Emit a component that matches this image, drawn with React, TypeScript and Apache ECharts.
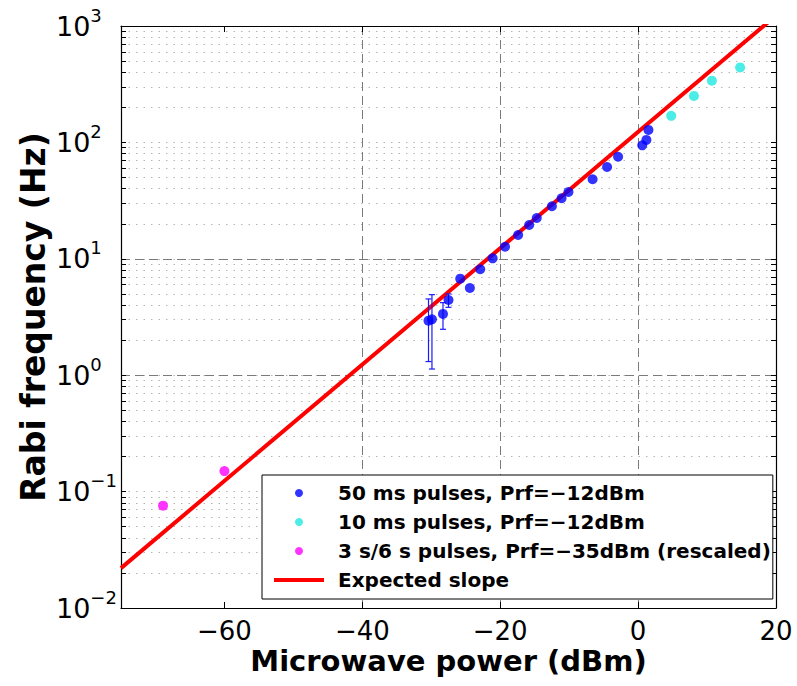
import React, { useEffect, useRef } from "react";
import * as echarts from "echarts";

// ---- data ----
const blueX = [-30.4, -29.9, -28.3, -27.5, -25.8, -24.4, -22.9, -21.1, -19.3, -17.4, -15.8, -14.7, -12.5, -11.1, -10.1, -6.6, -4.5, -2.9, 0.6, 1.2, 1.5];
const blueY = [2.94, 3.02, 3.36, 4.43, 6.75, 5.61, 8.13, 10.1, 12.7, 16.0, 19.5, 22.4, 28.3, 33.1, 37.5, 48.2, 61.5, 75.3, 94.4, 105, 128];
const errX = [-30.4, -29.9, -28.3, -27.5];
const errLow = [1.31, 1.13, 2.48, 3.83];
const errHigh = [4.52, 4.92, 4.2, 4.99];
const cyanX = [4.8, 8.1, 10.7, 14.8];
const cyanY = [169, 251, 339, 441];
const magX = [-68.9, -60.0];
const magY = [0.0757, 0.15];
const slopeX = [-75, 20];
const slopeY = [0.022, 1230];

const xTicks = [-60, -40, -20, 0, 20];
const decades = [0.01, 0.1, 1, 10, 100, 1000];
const innerDecades = [0.1, 1, 10, 100];
const minorMult = [1, 2, 3, 4, 5, 6, 7, 8, 9];

const names = [
  "50 ms pulses, Prf=\u221212dBm",
  "10 ms pulses, Prf=\u221212dBm",
  "3 s/6 s pulses, Prf=\u221235dBm (rescaled)",
  "Expected slope",
];

const FONT = "DejaVu Sans";

export default function App() {
  const ref = useRef<HTMLDivElement>(null);
  useEffect(() => {
    if (!ref.current) return;
    const chart = echarts.init(ref.current, undefined, { renderer: "svg" });
    const yTickVals: number[] = [];
    decades.slice(0, 5).forEach((d) => minorMult.forEach((m) => yTickVals.push(+(m * d).toPrecision(6))));
    yTickVals.push(1000);
    const zip = (xs: number[], ys: number[]) => xs.map((x, i) => [x, ys[i]]);
    const fmtX = (v: number) => (v < 0 ? "\u2212" + Math.abs(v) : String(v));
    const fmtY = (v: number) => {
      const e = Math.round(Math.log10(v));
      return "{b|10}{s|" + (e < 0 ? "\u2212" + -e : String(e)) + "}";
    };
    const yBase = {
      type: "log" as const,
      logBase: 10,
      min: 0.01,
      max: 1000,
    };
    const option: any = {
      animation: false,
      backgroundColor: "#ffffff",
      textStyle: { fontFamily: FONT },
      grid: { left: 121, right: 21, top: 26, bottom: 78, containLabel: false },
      xAxis: [
        {
          type: "value",
          min: -75,
          max: 20,
          position: "bottom",
          axisLine: { show: true, onZero: false, lineStyle: { color: "#000", width: 1.2 } },
          axisTick: { show: true, inside: true, length: 6, customValues: xTicks, lineStyle: { color: "#000" } },
          axisLabel: {
            customValues: xTicks,
            formatter: fmtX,
            fontFamily: FONT,
            fontSize: 26,
            lineHeight: 26,
            color: "#000",
            margin: 10,
          },
          splitLine: {
            show: true,
            showMinLine: false,
            showMaxLine: false,
            lineStyle: { color: "#7a7a7a", type: [9, 5], width: 1 },
          },
          name: "Microwave power (dBm)",
          nameLocation: "middle",
          nameGap: 38,
          nameMoveOverlap: false,
          nameTextStyle: { fontFamily: FONT, fontSize: 29, lineHeight: 29, fontWeight: "bold", color: "#000" },
        },
        {
          type: "value",
          min: -75,
          max: 20,
          position: "top",
          axisLine: { show: true, onZero: false, lineStyle: { color: "#000", width: 1.2 } },
          axisTick: { show: true, inside: true, length: 6, customValues: xTicks, lineStyle: { color: "#000" } },
          axisLabel: { show: false },
          splitLine: { show: false },
        },
      ],
      yAxis: [
        {
          ...yBase,
          position: "left",
          axisLine: { show: true, onZero: false, lineStyle: { color: "#000", width: 1.2 } },
          axisTick: { show: true, inside: true, length: 5, customValues: yTickVals, lineStyle: { color: "#000" } },
          axisLabel: {
            customValues: decades,
            formatter: fmtY,
            align: "left",
            margin: 65,
            color: "#000",
            rich: {
              b: { fontFamily: FONT, fontSize: 27, color: "#000" },
              s: { fontFamily: FONT, fontSize: 18, color: "#000", padding: [0, 0, 22, 0] },
            },
          },
          splitLine: {
            show: true,
            showMinLine: false,
            showMaxLine: false,
            lineStyle: { color: "#b4b4b4", type: [1.5, 6], width: 1 },
          },
          name: "Rabi frequency (Hz)",
          nameLocation: "middle",
          nameGap: 71,
          nameMoveOverlap: false,
          nameTextStyle: { fontFamily: FONT, fontSize: 33, fontWeight: "bold", color: "#000" },
        },
        {
          ...yBase,
          position: "right",
          axisLine: { show: true, onZero: false, lineStyle: { color: "#000", width: 1.2 } },
          axisTick: { show: true, inside: true, length: 5, customValues: yTickVals, lineStyle: { color: "#000" } },
          axisLabel: { show: false },
          splitLine: { show: false },
        },
        {
          ...yBase,
          position: "right",
          axisLine: { show: false },
          axisTick: { show: false, customValues: innerDecades },
          axisLabel: { show: false },
          splitLine: {
            show: true,
            showMinLine: false,
            showMaxLine: false,
            lineStyle: { color: "#7a7a7a", type: [9, 5], width: 1 },
          },
        },
      ],
      legend: {
        left: 262,
        top: 475,
        orient: "vertical",
        padding: [3.5, 2, 4.5, 10],
        itemGap: 0,
        itemWidth: 50,
        itemHeight: 8,
        backgroundColor: "#fff",
        borderColor: "#000",
        borderWidth: 1,
        borderRadius: 0,
        textStyle: {
          fontFamily: FONT,
          fontSize: 20,
          fontWeight: "bold",
          color: "#000",
          lineHeight: 29,
          padding: [0, 0, 0, 9],
        },
        data: [
          { name: names[0], icon: "circle" },
          { name: names[1], icon: "circle" },
          { name: names[2], icon: "circle" },
          { name: names[3], itemStyle: { opacity: 0 }, lineStyle: { color: "#ff0000", width: 4 } },
        ],
      },
      series: [
        {
          name: names[3],
          type: "line",
          data: zip(slopeX, slopeY),
          showSymbol: false,
          symbol: "none",
          clip: true,
          lineStyle: { color: "#ff0000", width: 4 },
          itemStyle: { color: "#ff0000" },
          z: 2,
        },
        {
          name: "err",
          type: "custom",
          data: errX.map((x, i) => [x, errLow[i], errHigh[i]]),
          encode: { x: 0, y: [1, 2] },
          z: 3,
          renderItem: (params: any, api: any) => {
            const x = api.value(0);
            const lo = api.coord([x, api.value(1)]);
            const hi = api.coord([x, api.value(2)]);
            const w = 3;
            const st = { stroke: "#1a1aff", lineWidth: 1.2 };
            return {
              type: "group",
              children: [
                { type: "line", shape: { x1: lo[0], y1: lo[1], x2: hi[0], y2: hi[1] }, style: st },
                { type: "line", shape: { x1: lo[0] - w, y1: lo[1], x2: lo[0] + w, y2: lo[1] }, style: st },
                { type: "line", shape: { x1: hi[0] - w, y1: hi[1], x2: hi[0] + w, y2: hi[1] }, style: st },
              ],
            };
          },
        },
        {
          name: names[0],
          type: "scatter",
          data: zip(blueX, blueY),
          symbol: "circle",
          symbolSize: 10,
          itemStyle: { color: "#0000ff" },
          z: 4,
        },
        {
          name: names[1],
          type: "scatter",
          data: zip(cyanX, cyanY),
          symbol: "circle",
          symbolSize: 10,
          itemStyle: { color: "#1ee8e0" },
          z: 4,
        },
        {
          name: names[2],
          type: "scatter",
          data: zip(magX, magY),
          symbol: "circle",
          symbolSize: 10,
          itemStyle: { color: "#ff00ff" },
          z: 4,
        },
      ],
    };
    chart.setOption(option);
    return () => chart.dispose();
  }, []);
  return (
    <div
      ref={ref}
      style={{ position: "absolute", left: 0, top: 0, width: 797, height: 686, background: "#fff" }}
    />
  );
}
